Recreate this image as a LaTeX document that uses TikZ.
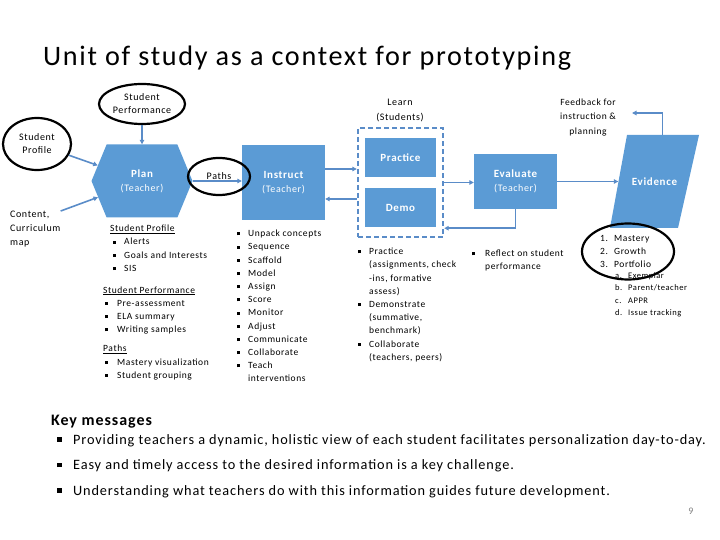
\documentclass[tikz,border=0pt]{standalone}
\usepackage{fontspec}
\setmainfont{Carlito}[LetterSpace=6]
\usetikzlibrary{arrows.meta,shapes.geometric,shapes.symbols}
\definecolor{boxblue}{HTML}{5B9BD5}
\definecolor{linkblue}{HTML}{5A8CC8}
\newcommand{\sq}{\raisebox{0.3ex}{\rule{3pt}{3pt}}}
\newcommand{\bigsq}{\raisebox{0.35ex}{\rule{4.5pt}{4.5pt}}}
\newcommand{\itm}{\makebox[11pt][l]{\sq}}
\newcommand{\ind}{\hspace*{11pt}}

\begin{document}
\begin{tikzpicture}[x=1pt,y=-1pt,>={Triangle[length=4.5pt,width=4.5pt]},
  blk/.style={fill=boxblue,draw=none,text=white,align=center,inner sep=0pt,
    font=\fontsize{10}{14}\selectfont},
  ring/.style={ellipse,draw=black,line width=2.2pt,inner sep=0pt,align=center,
    font=\fontsize{10}{13}\selectfont},
  link/.style={draw=linkblue,line width=1.6pt,->},
  lst/.style={anchor=north west,align=left,inner sep=0pt,
    font=\fontsize{9.5}{13.2}\selectfont},
  lbl/.style={align=center,inner sep=0pt,font=\fontsize{10}{14.5}\selectfont}]
  \useasboundingbox (0,0) rectangle (720,540);
  % ---- title ----
  \node[anchor=base west,inner sep=0pt,font=\fontsize{28.2}{30}\selectfont] (title)
    at (43,66) {Unit of study as a context for prototyping};
  % ---- main flow ----
  \node[blk,signal,signal to=west and east,signal pointer angle=135,
    minimum width=101,minimum height=73] (plan) at (142,181)
    {{\bfseries\fontsize{11}{13}\selectfont Plan}\\(Teacher)};
  \node[blk,minimum width=83,minimum height=75] (instr) at (283.5,182.5)
    {{\bfseries\fontsize{11}{13}\selectfont Instruct}\\(Teacher)};
  \node[draw=linkblue,line width=2.4pt,dash pattern=on 5pt off 3pt,
    minimum width=85,minimum height=109,inner sep=0pt] (learn) at (400.5,182.5) {};
  \node[blk,minimum width=71,minimum height=39,font=\bfseries\fontsize{11}{13}\selectfont]
    (prac) at (400.5,157.5) {Practice};
  \node[blk,minimum width=71,minimum height=39,font=\bfseries\fontsize{11}{13}\selectfont]
    (demo) at (400.5,207.5) {Demo};
  \node[lbl] (learnlbl) at (400,110.5) {Learn\\(Students)};
  \node[blk,minimum width=83,minimum height=55] (eval) at (515.5,181.5)
    {{\bfseries\fontsize{11}{13}\selectfont Evaluate}\\(Teacher)};
  % evidence sheet, slanted
  \fill[boxblue] (627,135) -- (699,135) -- (678,228) -- (610,228) -- cycle;
  \node[blk,fill=none,minimum width=72,minimum height=93,
    font=\bfseries\fontsize{11}{13}\selectfont] (evid) at (654.5,181.5) {Evidence};
  \node[lbl,font=\fontsize{9.5}{14.5}\selectfont] (fb) at (588,117.5)
    {Feedback for\\instruction \&\\planning};
  \coordinate (fbend) at (632,113);
  \node[lst,font=\fontsize{10}{14}\selectfont] (content) at (10,211)
    {Content,\\Curriculum\\map};
  % ---- connectors ----
  \draw[link] (content.north east) -- (plan);
  \draw[link] (plan.east) -- (plan.east -| instr.west);
  \draw[link] ([yshift=13.5pt]instr.east) -- ([yshift=13.5pt]instr.east -| learn.west);
  \draw[link] ([yshift=-16.5pt]learn.west) -- ([yshift=-16.5pt]learn.west -| instr.east);
  \draw[link] (learn.east) -- (learn.east -| eval.west);
  \draw[link] (eval.south) |- ([yshift=10pt]learn.south east);
  \draw[link] (eval.east) -- (eval.east -| evid.west);
  \draw[link] ([xshift=8pt]evid.north) |- (fbend);
  % ---- lists ----
  \node[lst] (planlst) at (103,225) {%
    \hspace*{7pt}\underline{Student Profile}\\
    \hspace*{10pt}\itm Alerts\\
    \hspace*{10pt}\itm Goals and Interests\\
    \hspace*{10pt}\itm SIS\\[8.5pt]
    \underline{Student Performance}\\
    \hspace*{2pt}\makebox[12pt][l]{\sq}Pre-assessment\\
    \hspace*{2pt}\makebox[12pt][l]{\sq}ELA summary\\
    \hspace*{2pt}\makebox[12pt][l]{\sq}Writing samples\\[6pt]
    \underline{Paths}\\
    \hspace*{2pt}\makebox[12pt][l]{\sq}Mastery visualization\\
    \hspace*{2pt}\makebox[12pt][l]{\sq}Student grouping};
  \node[lst] (instrlst) at (237,230) {%
    \itm Unpack concepts\\ \itm Sequence\\ \itm Scaffold\\ \itm Model\\
    \itm Assign\\ \itm Score\\ \itm Monitor\\ \itm Adjust\\
    \itm Communicate\\ \itm Collaborate\\ \itm Teach\\ \ind interventions};
  \node[lst] (learnlst) at (358,248) {%
    \itm Practice\\ \ind(assignments, check\\ \ind-ins, formative\\ \ind assess)\\
    \itm Demonstrate\\ \ind(summative,\\ \ind benchmark)\\
    \itm Collaborate\\ \ind(teachers, peers)};
  \node[lst] (evallst) at (472,250) {%
    \makebox[13pt][l]{\sq}Reflect on student\\ \hspace*{13pt}performance};
  \node[lst] (evidlst) at (600,235) {%
    \makebox[14pt][l]{1.}Mastery\\ \makebox[14pt][l]{2.}Growth\\
    \makebox[14pt][l]{3.}Portfolio};
  \node[lst,font=\fontsize{8.5}{12.3}\selectfont] (evidsub) at (615,272.5) {%
    \makebox[13pt][l]{a.}Exemplar\\ \makebox[13pt][l]{b.}Parent/teacher\\
    \makebox[13pt][l]{c.}APPR\\ \makebox[13pt][l]{d.}Issue tracking};
  % ---- rings ----
  \node[ring,minimum width=86,minimum height=40] (sperf) at (142,104)
    {Student\\Performance};
  \node[ring,minimum width=68,minimum height=52] (sprof) at (37,144)
    {Student\\Profile};
  \draw[link] (sperf) -- (plan);
  \draw[link] (sprof) -- (plan);
  \node[ring,minimum width=62,minimum height=37] (paths) at (219,176.5) {Paths};
  \node[ring,minimum width=92,minimum height=56] (evring) at (628,251.5) {};
  % ---- key messages ----
  \node[anchor=base west,inner sep=0pt,font=\bfseries\fontsize{16}{18}\selectfont]
    (keyttl) at (51,425) {Key messages};
  \node[lst,font=\fontsize{14.3}{25.5}\selectfont] (keylst) at (57,434) {%
    \makebox[16pt][l]{\bigsq}Providing teachers a dynamic, holistic view of each student facilitates personalization day-to-day.\\
    \makebox[16pt][l]{\bigsq}Easy and timely access to the desired information is a key challenge.\\
    \makebox[16pt][l]{\bigsq}Understanding what teachers do with this information guides future development.};
  \node[text=gray,font=\fontsize{10}{12}\selectfont] (pgno) at (691,511) {9};
\end{tikzpicture}
\end{document}
